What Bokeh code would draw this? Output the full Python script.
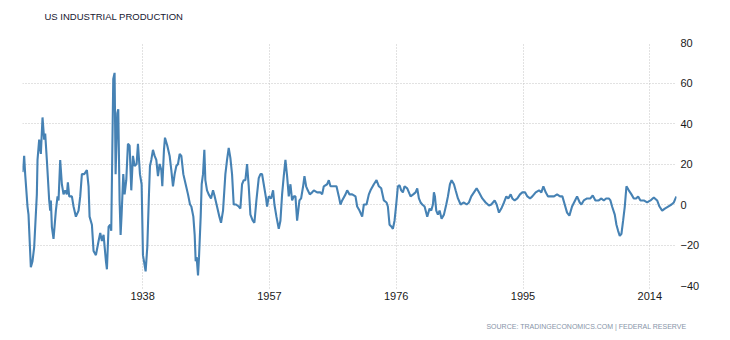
from bokeh.plotting import figure
from bokeh.models import FixedTicker, Range1d, Title, ColumnDataSource
from bokeh.embed import file_html
from bokeh.resources import INLINE

# Year-over-year change of US industrial production (%)
years = [
    1920.0, 1920.25, 1920.4, 1920.75, 1920.9, 1921.25, 1921.5, 1921.75, 1922.15, 1922.25,
    1922.5, 1922.75, 1923.0, 1923.25, 1923.4, 1923.65, 1924.0, 1924.15, 1924.25, 1924.4,
    1924.65, 1925.0, 1925.25, 1925.4, 1925.65, 1925.9, 1926.15, 1926.4, 1926.65, 1926.8,
    1927.0, 1927.4, 1927.65, 1928.0, 1928.4, 1928.65, 1928.9, 1929.25, 1929.65, 1929.9,
    1930.05, 1930.4, 1930.65, 1931.0, 1931.4, 1931.65, 1931.9, 1932.15, 1932.5, 1932.65,
    1932.9, 1933.15, 1933.3, 1933.6, 1933.8, 1933.95, 1934.2, 1934.35, 1934.55, 1934.7,
    1934.85, 1935.1, 1935.3, 1935.55, 1935.8, 1936.05, 1936.3, 1936.55, 1936.8, 1937.1,
    1937.3, 1937.6, 1937.85, 1938.05, 1938.2, 1938.45, 1938.7, 1938.95, 1939.1, 1939.3,
    1939.55, 1939.8, 1940.05, 1940.3, 1940.55, 1940.8, 1940.95, 1941.2, 1941.35, 1941.7,
    1942.05, 1942.3, 1942.55, 1942.8, 1943.05, 1943.3, 1943.55, 1943.8, 1944.1, 1944.45,
    1944.8, 1945.1, 1945.3, 1945.6, 1945.8, 1945.95, 1946.1, 1946.3, 1946.45, 1946.7,
    1946.85, 1947.05, 1947.25, 1947.4, 1947.65, 1947.9, 1948.25, 1948.55, 1948.8, 1949.15,
    1949.5, 1949.75, 1950.05, 1950.4, 1950.65, 1950.9, 1951.15, 1951.4, 1951.65, 1952.0,
    1952.4, 1952.65, 1952.9, 1953.15, 1953.4, 1953.65, 1953.9, 1954.15, 1954.5, 1954.75,
    1955.05, 1955.4, 1955.65, 1955.9, 1956.15, 1956.5, 1956.65, 1956.9, 1957.25, 1957.55,
    1957.75, 1958.05, 1958.4, 1958.65, 1958.9, 1959.15, 1959.4, 1959.65, 1959.9, 1960.15,
    1960.4, 1960.65, 1960.9, 1961.15, 1961.5, 1961.75, 1962.05, 1962.25, 1962.5, 1962.75,
    1963.05, 1963.4, 1963.65, 1964.15, 1964.65, 1964.9, 1965.15, 1965.65, 1965.9, 1966.15,
    1966.65, 1967.05, 1967.4, 1967.65, 1967.9, 1968.4, 1968.65, 1969.0, 1969.4, 1969.9,
    1970.15, 1970.5, 1970.9, 1971.15, 1971.55, 1971.9, 1972.15, 1972.65, 1973.05, 1973.4,
    1973.75, 1974.15, 1974.55, 1974.75, 1975.0, 1975.3, 1975.5, 1975.75, 1976.0, 1976.25,
    1976.5, 1976.75, 1977.0, 1977.25, 1977.65, 1978.15, 1978.55, 1978.9, 1979.15, 1979.4,
    1979.65, 1979.9, 1980.25, 1980.65, 1981.0, 1981.25, 1981.5, 1981.65, 1981.8, 1982.0,
    1982.25, 1982.5, 1982.8, 1983.15, 1983.5, 1983.75, 1984.05, 1984.3, 1984.65, 1984.9,
    1985.25, 1985.65, 1986.15, 1986.55, 1986.9, 1987.25, 1987.65, 1988.05, 1988.4, 1988.9,
    1989.4, 1989.9, 1990.25, 1990.75, 1991.05, 1991.4, 1991.75, 1992.15, 1992.5, 1992.8,
    1993.15, 1993.4, 1993.75, 1994.15, 1994.55, 1994.9, 1995.3, 1995.65, 1996.05, 1996.4,
    1996.9, 1997.4, 1997.75, 1998.05, 1998.4, 1998.75, 1999.1, 1999.65, 2000.1, 2000.55,
    2000.9, 2001.25, 2001.6, 2001.95, 2002.35, 2002.8, 2003.1, 2003.5, 2003.75, 2004.1,
    2004.6, 2005.1, 2005.45, 2005.85, 2006.35, 2006.75, 2007.1, 2007.45, 2007.85, 2008.1,
    2008.35, 2008.75, 2009.0, 2009.25, 2009.5, 2009.75, 2010.0, 2010.25, 2010.5, 2010.85,
    2011.25, 2011.6, 2011.95, 2012.25, 2012.6, 2013.1, 2013.6, 2014.1, 2014.6, 2015.1,
    2015.45, 2015.85, 2016.25, 2016.75, 2017.25, 2017.6, 2017.85, 2018.0,
]
values = [
    16, 24, 15, -1, -5, -31, -28, -21, 5, 22,
    32, 25, 43, 32, 35, 22, 2, -3, 2, -11,
    -17, -3, 4, 2, 22, 10, 5, 7, 5, 11,
    4, 4, -1, -6, -3, 4, 15, 15, 17, 9,
    -6, -10, -23, -25, -18, -14, -18, -15, -28, -32,
    -11, -10, -13, 62, 65, 15, 45, 47, 2, -15,
    -5, 15, 5, 12, 30, 29, 7, 24, 19, 20,
    30, 15, 10, -25, -28, -33, -21, 5, 19, 22,
    27, 24, 22, 14, 20, 17, 9, 27, 33, 29,
    24, 17, 9, 15, 19, 20, 25, 24, 15, 10,
    5, 0, -1, -6, -15, -28, -26, -35, -26, -6,
    10, 15, 27, 12, 7, 5, 3, 7, 4, -1,
    -6, -9, -3, 15, 22, 28, 23, 15, 0, 0,
    -1, -2, 10, 12, 12, 20, 9, -5, -8, -9,
    2, 13, 15, 15, 10, 3, -1, 4, 3, 7,
    0, -6, -12, -8, 5, 14, 22, 14, 4, 10,
    2, 4, 4, -8, 2, 3, 9, 14, 9, 7,
    5, 6, 7, 6, 6, 5, 9, 10, 12, 9,
    9, 9, 4, 0, 2, 5, 7, 5, 5, 4,
    -1, -3, -6, 0, 0, 5, 7, 10, 12, 9,
    8, 2, 1, -1, -10, -11, -12, -8, 0, 9,
    9.5, 7, 6, 9, 8, 4, 5, 6, 8, 3,
    1, 0, -1, -6, -2, -3, 0, 6, 4, -3,
    -5, -3, -7, -5, 0, 4, 10, 12, 10, 7,
    3, 0, 1, 0, 1, 4, 6, 8, 6, 3,
    1, -0.5, 0, 2, 0, -4, -2, 1, 4, 3,
    5, 3, 2, 3, 5, 6, 6, 4, 3, 4,
    6, 7, 6, 9, 6, 4, 4, 4, 5, 4,
    4, 0, -4, -5.5, -1, 2, 4, 1, 0, 2,
    3, 3, 4.5, 2, 2, 3, 2, 3, 3, 2,
    -1, -5, -10, -13, -15.5, -14.5, -8, -1, 9, 7,
    5, 3, 3, 4, 2, 2, 1, 2, 3.5, 2,
    -1, -3, -2, -1, 0, 1, 3, 4,
]

x_ticks = [1938, 1957, 1976, 1995, 2014]
y_ticks = [-40, -20, 0, 20, 40, 60, 80]

source = ColumnDataSource(data=dict(year=years, value=values))

p = figure(
    width=722, height=338,
    output_backend="svg", toolbar_location=None,
    x_range=Range1d(1920, 2018), y_range=Range1d(-40, 80),
    y_axis_location="right",
    min_border_left=22, min_border_right=46, min_border_top=42, min_border_bottom=53,
)
p.outline_line_color = None
p.background_fill_color = "white"
p.border_fill_color = "white"

p.line("year", "value", source=source, line_color="#4682b4", line_width=2.1)

p.xaxis.ticker = FixedTicker(ticks=x_ticks)
p.yaxis.ticker = FixedTicker(ticks=y_ticks)

for g in (p.xgrid, p.ygrid):
    g.grid_line_color = "#c4c4c4"
    g.grid_line_dash = "1 2"
    g.grid_line_width = 1

for ax in (p.xaxis, p.yaxis):
    ax.axis_line_color = None
    ax.minor_tick_line_color = None
    ax.major_label_text_font = "Liberation Sans"
    ax.major_label_text_font_size = "11px"
    ax.major_label_text_color = "#1a1a1a"

p.yaxis.major_tick_line_color = None
p.yaxis.major_tick_out = 0
p.yaxis.major_label_standoff = 4

p.xaxis.major_tick_line_color = "#c4c4c4"
p.xaxis.major_tick_line_dash = "1 2"
p.xaxis.major_tick_out = 3
p.xaxis.major_tick_in = 0
p.xaxis.major_label_standoff = 3

# spacer panels (closest to the frame) push the texts outward
p.add_layout(Title(text=" ", text_font="Liberation Sans", text_font_size="9.5px", standoff=6), "above")
title = Title(text="US INDUSTRIAL PRODUCTION", align="left", offset=22,
              text_font="Liberation Sans", text_font_size="9.5px",
              text_font_style="normal", text_color="#161630", standoff=4)
p.add_layout(title, "above")

p.add_layout(Title(text=" ", text_font="Liberation Sans", text_font_size="7px", standoff=8), "below")
src = Title(text="SOURCE: TRADINGECONOMICS.COM | FEDERAL RESERVE", align="right", offset=-10,
            text_font="Liberation Sans", text_font_size="7px",
            text_font_style="normal", text_color="#8794a8", standoff=2)
p.add_layout(src, "below")

open("out.html", "w").write(file_html(p, INLINE))
